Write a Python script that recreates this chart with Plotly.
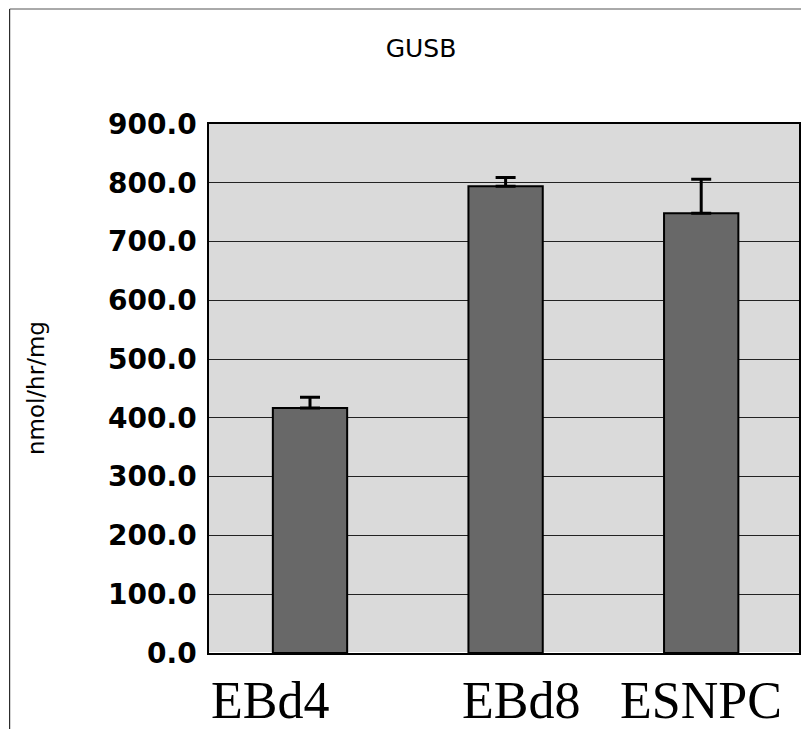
import plotly.graph_objects as go

categories = ["EBd4", "EBd8", "ESNPC"]
values = [417.0, 794.0, 748.0]
errors = [18.0, 15.0, 58.0]
tick_vals = [0, 100, 200, 300, 400, 500, 600, 700, 800, 900]
tick_text = ["0.0", "100.0", "200.0", "300.0", "400.0", "500.0", "600.0", "700.0", "800.0", "900.0"]
label_shift = [-40, 15, 0]

# page is offset by the default 8px body margin, so the figure is 801x721
W, H = 801, 721
L, R, T, B = 201, 8, 116, 76
pw, ph = W - L - R, H - T - B

fig = go.Figure()
fig.add_trace(go.Bar(
    x=categories, y=values,
    marker=dict(color="#686868", line=dict(color="black", width=2)),
    error_y=dict(type="data", symmetric=False, array=errors, arrayminus=[0, 0, 0],
                 color="black", thickness=3, width=10),
))

fig.update_layout(
    width=W, height=H,
    margin=dict(l=L, r=R, t=T, b=B),
    paper_bgcolor="white",
    plot_bgcolor="#dadada",
    bargap=0.62,
    showlegend=False,
    title=dict(text="GUSB", x=413 / W, xanchor="center", y=1 - 40 / H, yanchor="middle",
               font=dict(family="DejaVu Sans", size=25, color="black")),
    xaxis=dict(showgrid=False, showticklabels=False,
               showline=True, linecolor="black", linewidth=1.5, mirror=True, ticks=""),
    yaxis=dict(range=[0, 900], tickvals=tick_vals, ticktext=tick_text,
               tickfont=dict(family="DejaVu Sans", size=28, color="black", weight="bold"),
               showgrid=True, gridcolor="#222222", gridwidth=1,
               showline=True, linecolor="black", linewidth=1.5, mirror=True,
               ticks="", ticklabelstandoff=5),
    font=dict(family="DejaVu Sans", color="black"),
)

for c, s in zip(categories, label_shift):
    fig.add_annotation(x=c, y=0, xref="x", yref="y", text=c, showarrow=False,
                       xshift=s, yshift=-47, yanchor="middle",
                       font=dict(family="Liberation Serif", size=52, color="black"))

fig.add_annotation(x=(27 - L) / pw, y=0.5, xref="paper", yref="paper", text="nmol/hr/mg",
                   textangle=-90, showarrow=False, xanchor="center", yanchor="middle",
                   font=dict(family="DejaVu Sans", size=23, color="black"))

# outer frame lines (left and top)
fig.add_shape(type="line", xref="paper", yref="paper",
              x0=(1 - L) / pw, x1=(1 - L) / pw, y0=-B / ph, y1=1 + (T - 1) / ph,
              line=dict(color="black", width=1))
fig.add_shape(type="line", xref="paper", yref="paper",
              x0=(1 - L) / pw, x1=1 + R / pw, y0=1 + (T - 1) / ph, y1=1 + (T - 1) / ph,
              line=dict(color="#555555", width=1))

fig.write_html("out.html")
